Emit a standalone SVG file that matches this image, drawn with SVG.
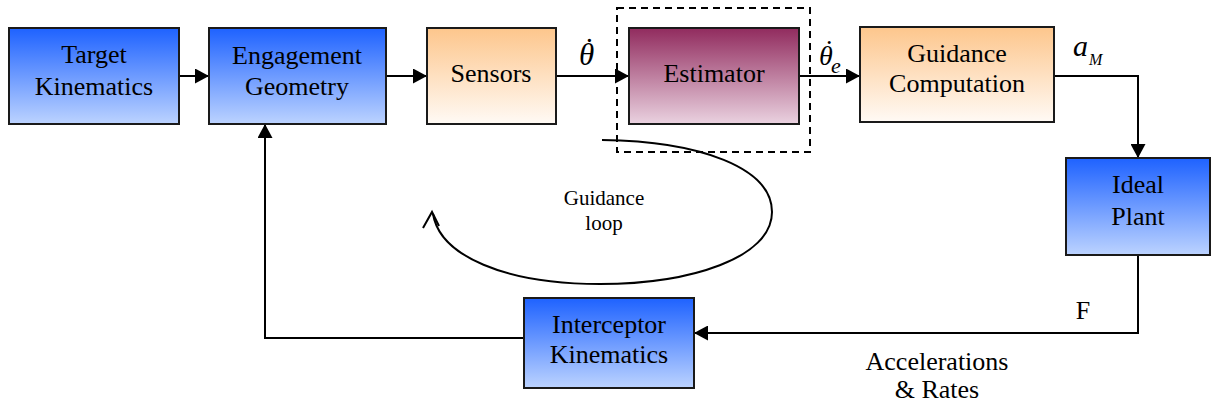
<svg xmlns="http://www.w3.org/2000/svg" width="1212" height="406" viewBox="0 0 1212 406">
<style>
.box{stroke:#1a1a1a;stroke-width:2}
.t{font-family:"Liberation Serif","DejaVu Serif",serif;font-size:26px;fill:#000;text-anchor:middle}
.s{font-family:"Liberation Serif","DejaVu Serif",serif;font-size:21px;fill:#000;text-anchor:middle}
.m{font-family:"Liberation Serif","DejaVu Serif",serif;font-style:italic;fill:#000}
.ln{fill:none;stroke:#000;stroke-width:2}
</style>
<defs>
<linearGradient id="blue" x1="0" y1="0" x2="0" y2="1"><stop offset="0" stop-color="#1e62ff"/><stop offset="1" stop-color="#bcd3ff"/></linearGradient>
<linearGradient id="orange" x1="0" y1="0" x2="0" y2="1"><stop offset="0" stop-color="#fdc68c"/><stop offset="1" stop-color="#fffaf5"/></linearGradient>
<linearGradient id="purple" x1="0" y1="0" x2="0" y2="1"><stop offset="0" stop-color="#912b5e"/><stop offset="1" stop-color="#ead2e0"/></linearGradient>
<marker id="arr" viewBox="0 0 14 15" refX="14" refY="7.5" markerWidth="14" markerHeight="15" markerUnits="userSpaceOnUse" orient="auto"><path d="M0,0 L14,7.5 L0,15 z" fill="#000"/></marker>
</defs>
<g id="connectors">
<line class="ln" x1="179" y1="76" x2="209" y2="76" marker-end="url(#arr)"/>
<line class="ln" x1="386" y1="76" x2="427" y2="76" marker-end="url(#arr)"/>
<line class="ln" x1="556" y1="76" x2="629" y2="76" marker-end="url(#arr)"/>
<line class="ln" x1="799" y1="76" x2="860" y2="76" marker-end="url(#arr)"/>
<polyline class="ln" points="1054,76 1138,76 1138,158" marker-end="url(#arr)"/>
<polyline class="ln" points="1138,255 1138,333 694,333" marker-end="url(#arr)"/>
<polyline class="ln" points="524,338 265,338 265,124" marker-end="url(#arr)"/>
<path class="ln" d="M602,140 C700,141 772,168 772,212 C772,258 690,284 600,284 C505,284 440,256 433,214"/>
<path class="ln" d="M423,228 L432,212 L439,226"/>
</g>
<g id="dashed-box"><rect x="617" y="8" width="193" height="144" fill="none" stroke="#000" stroke-width="2" stroke-dasharray="7,5"/></g>
<g id="target-kinematics"><rect class="box" x="9" y="28" width="170" height="96" fill="url(#blue)"/><text class="t" x="94" y="63">Target</text><text class="t" x="94" y="95">Kinematics</text></g>
<g id="engagement-geometry"><rect class="box" x="209" y="28" width="177" height="96" fill="url(#blue)"/><text class="t" x="297" y="64">Engagement</text><text class="t" x="297" y="95">Geometry</text></g>
<g id="sensors"><rect class="box" x="427" y="28" width="129" height="96" fill="url(#orange)"/><text class="t" x="491" y="82">Sensors</text></g>
<g id="estimator"><rect class="box" x="629" y="28" width="170" height="96" fill="url(#purple)"/><text class="t" x="714" y="82">Estimator</text></g>
<g id="guidance-computation"><rect class="box" x="860" y="27" width="194" height="95" fill="url(#orange)"/><text class="t" x="957" y="62">Guidance</text><text class="t" x="957" y="92">Computation</text></g>
<g id="ideal-plant"><rect class="box" x="1066" y="158" width="144" height="97" fill="url(#blue)"/><text class="t" x="1138" y="193">Ideal</text><text class="t" x="1138" y="225">Plant</text></g>
<g id="interceptor-kinematics"><rect class="box" x="524" y="298" width="170" height="90" fill="url(#blue)"/><text class="t" x="609" y="333">Interceptor</text><text class="t" x="609" y="363">Kinematics</text></g>
<g id="labels">
<text class="m" x="579" y="65" font-size="31">θ<tspan dx="-12" dy="-5">˙</tspan></text>
<text class="m" x="819" y="65" font-size="28">θ<tspan dx="-10" dy="-6">˙</tspan><tspan font-size="22" dx="-1" dy="14">e</tspan></text>
<text class="m" x="1073" y="56" font-size="30">a<tspan font-size="16" dx="1" dy="9">M</tspan></text>
<text class="t" x="1083" y="319">F</text>
<text class="t" x="937" y="370">Accelerations</text>
<text class="t" x="937" y="398">&amp; Rates</text>
<text class="s" x="604" y="205">Guidance</text>
<text class="s" x="604" y="230">loop</text>
</g>
</svg>
